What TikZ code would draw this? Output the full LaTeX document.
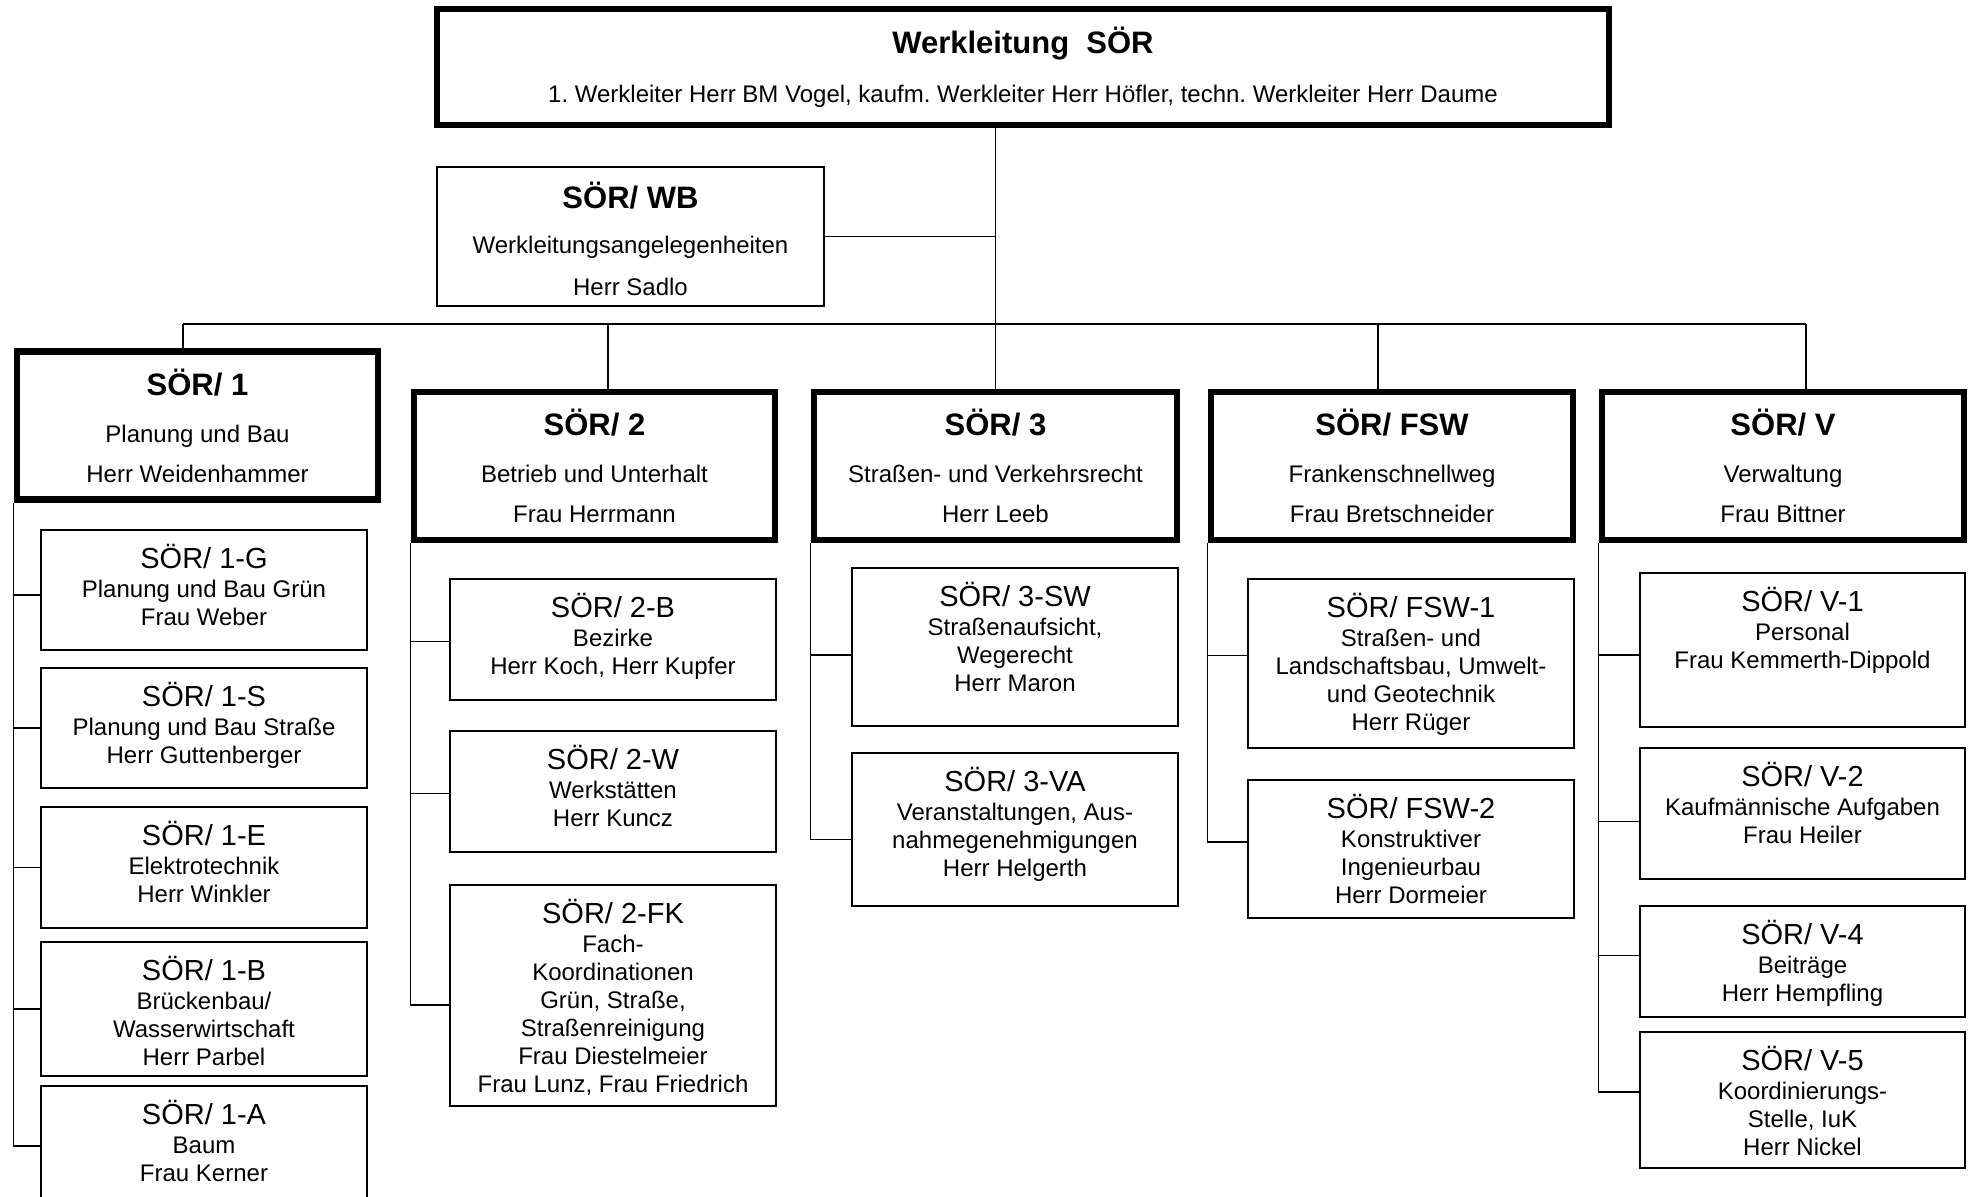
\documentclass[tikz,border=0pt]{standalone}
\usepackage{fontspec}
\setmainfont{Liberation Sans}
\usetikzlibrary{positioning,fit}
\frenchspacing
\newcommand{\boxhead}[1]{{\fontsize{15.5}{18}\selectfont\bfseries #1}}
\newcommand{\unithead}[1]{{\fontsize{14.5}{17}\selectfont #1}}

\begin{document}
\begin{tikzpicture}[x=0.5pt,y=-0.5pt,
  mainbox/.style={draw,line width=3.3pt,align=center,inner sep=0pt,
    font=\fontsize{12}{20}\selectfont},
  wbbox/.style={mainbox,line width=1pt},
  subbox/.style={draw,line width=0.8pt,inner sep=0pt},
  subtext/.style={align=center,inner sep=0pt,font=\fontsize{12}{14}\selectfont},
  link/.style={line width=0.6pt},
  bus/.style={line width=1pt}]
\useasboundingbox (0,0) rectangle (1969,1196);

% Werkleitung
\node[mainbox,minimum width=586pt,minimum height=58pt] (top) at (1023,67)
  {\boxhead{Werkleitung\ \ SÖR}\\[4.5pt]
   1. Werkleiter Herr BM Vogel, kaufm. Werkleiter Herr Höfler, techn. Werkleiter Herr Daume};
\node[wbbox,minimum width=193.5pt,minimum height=69.5pt] (wb) at (630.5,236.5)
  {\boxhead{\rule{0pt}{15.5pt}SÖR/ WB}\\[2.5pt] Werkleitungsangelegenheiten\\[1pt] Herr Sadlo};

% Bereiche
\node[mainbox,minimum width=180.5pt,minimum height=74pt] (b1) at (197.5,425.5)
  {\boxhead{SÖR/ 1}\\[3.5pt] Planung und Bau\\ Herr Weidenhammer};
\node[mainbox,minimum width=180.5pt,minimum height=74pt] (b2) at (594.5,466)
  {\boxhead{SÖR/ 2}\\[3.5pt] Betrieb und Unterhalt\\ Frau Herrmann};
\node[mainbox,minimum width=181.5pt,minimum height=74pt] (b3) at (995.5,466)
  {\boxhead{SÖR/ 3}\\[3.5pt] Straßen- und Verkehrsrecht\\ Herr Leeb};
\node[mainbox,minimum width=181pt,minimum height=74pt] (bF) at (1392,466)
  {\boxhead{SÖR/ FSW}\\[3.5pt] Frankenschnellweg\\ Frau Bretschneider};
\node[mainbox,minimum width=181pt,minimum height=74pt] (bV) at (1783,466)
  {\boxhead{SÖR/ V}\\[3.5pt] Verwaltung\\ Frau Bittner};

% Abteilungen SÖR/ 1
\node[subbox,fit={(41,530) (367,650)}] (s1g) {};
\node[subtext,below=7.2pt of s1g.north] (s1g-t)
  {\unithead{SÖR/ 1-G}\\[0.5pt] Planung und Bau Grün\\ Frau Weber};
\node[subbox,fit={(41,668) (367,788)}] (s1s) {};
\node[subtext,below=7.2pt of s1s.north] (s1s-t)
  {\unithead{SÖR/ 1-S}\\[0.5pt] Planung und Bau Straße\\ Herr Guttenberger};
\node[subbox,fit={(41,807) (367,928)}] (s1e) {};
\node[subtext,below=7.2pt of s1e.north] (s1e-t)
  {\unithead{SÖR/ 1-E}\\[0.5pt] Elektrotechnik\\ Herr Winkler};
\node[subbox,fit={(41,942) (367,1076)}] (s1b) {};
\node[subtext,below=7.2pt of s1b.north] (s1b-t)
  {\unithead{SÖR/ 1-B}\\[0.5pt] Brückenbau/\\ Wasserwirtschaft\\ Herr Parbel};
\node[subbox,fit={(41,1086) (367,1206)}] (s1a) {};
\node[subtext,below=7.2pt of s1a.north] (s1a-t)
  {\unithead{SÖR/ 1-A}\\[0.5pt] Baum\\ Frau Kerner};

% Abteilungen SÖR/ 2
\node[subbox,fit={(450,579) (776,700)}] (s2b) {};
\node[subtext,below=7.2pt of s2b.north] (s2b-t)
  {\unithead{SÖR/ 2-B}\\[0.5pt] Bezirke\\ Herr Koch, Herr Kupfer};
\node[subbox,fit={(450,731) (776,852)}] (s2w) {};
\node[subtext,below=7.2pt of s2w.north] (s2w-t)
  {\unithead{SÖR/ 2-W}\\[0.5pt] Werkstätten\\ Herr Kuncz};
\node[subbox,fit={(450,885) (776,1106)}] (s2fk) {};
\node[subtext,below=7.2pt of s2fk.north] (s2fk-t)
  {\unithead{SÖR/ 2-FK}\\[0.5pt] Fach-\\ Koordinationen\\ Grün, Straße,\\ Straßenreinigung\\
   Frau Diestelmeier\\ Frau Lunz, Frau Friedrich};

% Abteilungen SÖR/ 3
\node[subbox,fit={(852,568) (1178,726)}] (s3sw) {};
\node[subtext,below=7.2pt of s3sw.north] (s3sw-t)
  {\unithead{SÖR/ 3-SW}\\[0.5pt] Straßenaufsicht,\\ Wegerecht\\ Herr Maron};
\node[subbox,fit={(852,753) (1178,906)}] (s3va) {};
\node[subtext,below=7.2pt of s3va.north] (s3va-t)
  {\unithead{SÖR/ 3-VA}\\[0.5pt] Veranstaltungen, Aus-\\ nahmegenehmigungen\\ Herr Helgerth};

% Abteilungen SÖR/ FSW
\node[subbox,fit={(1248,579) (1574,748)}] (sF1) {};
\node[subtext,below=7.2pt of sF1.north] (sF1-t)
  {\unithead{SÖR/ FSW-1}\\[0.5pt] Straßen- und\\ Landschaftsbau, Umwelt-\\ und Geotechnik\\ Herr Rüger};
\node[subbox,fit={(1248,780) (1574,918)}] (sF2) {};
\node[subtext,below=7.2pt of sF2.north] (sF2-t)
  {\unithead{SÖR/ FSW-2}\\[0.5pt] Konstruktiver\\ Ingenieurbau\\ Herr Dormeier};

% Abteilungen SÖR/ V
\node[subbox,fit={(1640,573) (1965,727)}] (sV1) {};
\node[subtext,below=7.2pt of sV1.north] (sV1-t)
  {\unithead{SÖR/ V-1}\\[0.5pt] Personal\\ Frau Kemmerth-Dippold};
\node[subbox,fit={(1640,748) (1965,879)}] (sV2) {};
\node[subtext,below=7.2pt of sV2.north] (sV2-t)
  {\unithead{SÖR/ V-2}\\[0.5pt] Kaufmännische Aufgaben\\ Frau Heiler};
\node[subbox,fit={(1640,906) (1965,1017)}] (sV4) {};
\node[subtext,below=7.2pt of sV4.north] (sV4-t)
  {\unithead{SÖR/ V-4}\\[0.5pt] Beiträge\\ Herr Hempfling};
\node[subbox,fit={(1640,1032) (1965,1168)}] (sV5) {};
\node[subtext,below=7.2pt of sV5.north] (sV5-t)
  {\unithead{SÖR/ V-5}\\[0.5pt] Koordinierungs-\\ Stelle, IuK\\ Herr Nickel};

% Verbindungen
\coordinate (bus1) at (183,324);
\coordinate (bus2) at (608,324);
\coordinate (busF) at (1378,324);
\coordinate (busV) at (1806,324);
\draw[link] (b3.north |- top.south) -- (b3.north);
\draw[link] (wb.east) -- (wb.east -| b3.north);
\draw[bus] (bus1) -- (busV);
\draw[link] (bus1) -- (bus1 |- b1.north);
\draw[link] (bus2) -- (bus2 |- b2.north);
\draw[link] (busF) -- (busF |- bF.north);
\draw[link] (busV) -- (busV |- bV.north);

\draw[link] (b1.south west) |- ([yshift=-2.5pt]s1g.west);
\draw[link] (b1.south west) |- (s1s.west);
\draw[link] (b1.south west) |- (s1e.west);
\draw[link] (b1.south west) |- (s1b.west);
\draw[link] (b1.south west) |- (s1a.west);
\draw[link] (b2.south west) |- ([yshift=-1pt]s2b.west);
\draw[link] (b2.south west) |- ([yshift=-1pt]s2w.west);
\draw[link] (b2.south west) |- ([yshift=-4.75pt]s2fk.west);
\draw[link] (b3.south west) |- ([yshift=-4pt]s3sw.west);
\draw[link] (b3.south west) |- ([yshift=-5pt]s3va.west);
\draw[link] (bF.south west) |- ([yshift=4pt]sF1.west);
\draw[link] (bF.south west) |- ([yshift=3.5pt]sF2.west);
\draw[link] (bV.south west) |- ([yshift=-2.5pt]sV1.west);
\draw[link] (bV.south west) |- ([yshift=-4pt]sV2.west);
\draw[link] (bV.south west) |- ([yshift=3pt]sV4.west);
\draw[link] (bV.south west) |- ([yshift=4pt]sV5.west);
\end{tikzpicture}
\end{document}
